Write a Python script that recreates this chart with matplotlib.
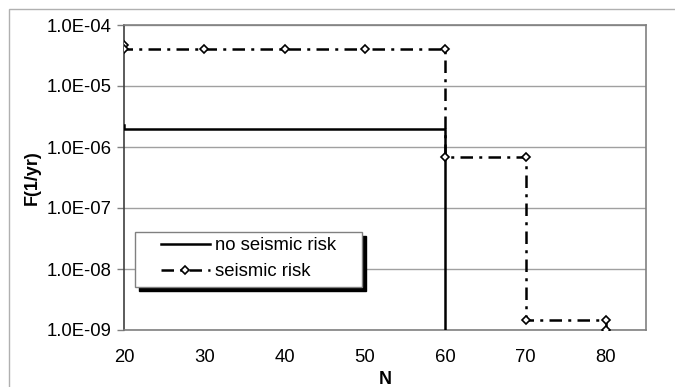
import matplotlib
matplotlib.use("Agg")
import matplotlib.pyplot as plt
from matplotlib.ticker import FixedLocator, FuncFormatter
from matplotlib.patches import Rectangle

plt.rcParams['font.family'] = ['Liberation Sans', 'DejaVu Sans']

# step curves
n_no_seismic = [20, 20, 60, 60]
f_no_seismic = [2.3e-6, 1.95e-6, 1.95e-6, 1.0e-9]

n_seismic = [20, 20, 30, 40, 50, 60, 60, 70, 70, 80, 80]
f_seismic = [4.7e-5, 4.1e-5, 4.1e-5, 4.1e-5, 4.1e-5, 4.1e-5,
             6.8e-7, 6.8e-7, 1.45e-9, 1.45e-9, 1.0e-9]

x_ticks = [20, 30, 40, 50, 60, 70, 80]
y_ticks = [1e-9, 1e-8, 1e-7, 1e-6, 1e-5, 1e-4]

W, H = 675, 387
fig = plt.figure(figsize=(W/100, H/100), dpi=100)
ax = fig.add_axes([124/W, 57/H, 522/W, 305/H])

# outer chart frame (light gray), runs off the right and bottom edges
fig.patches.append(Rectangle((9/W, -0.1), 1.2, 1.1 - 9/H,
                             transform=fig.transFigure, fill=False,
                             edgecolor='#b0b0b0', linewidth=1.0))

ax.plot(n_no_seismic, f_no_seismic, color='black', linewidth=1.8,
        label='no seismic risk', zorder=3)
ax.plot(n_seismic, f_seismic, color='black', linewidth=1.8,
        dashes=(5, 2.5, 1.2, 2.5), marker='D', markersize=4,
        markerfacecolor='white', markeredgecolor='black', markeredgewidth=1.2,
        label='seismic risk', zorder=4)

ax.set_yscale('log')
ax.set_xlim(20, 85)
ax.set_ylim(1e-9, 1e-4)
ax.xaxis.set_major_locator(FixedLocator(x_ticks))
ax.yaxis.set_major_locator(FixedLocator(y_ticks))
ax.yaxis.set_minor_locator(FixedLocator([]))
ax.yaxis.set_major_formatter(FuncFormatter(lambda v, p: '{:.1E}'.format(v)))

ax.grid(axis='y', color='#a0a0a0', linewidth=1)
ax.set_axisbelow(True)
for s in ax.spines.values():
    s.set_color('#808080')
    s.set_linewidth(1.2)
ax.spines['left'].set_color('#404040')

ax.tick_params(axis='y', direction='out', length=5, width=1, color='#808080',
               labelsize=13.3, pad=4)
ax.tick_params(axis='x', length=0, labelsize=13.3, pad=14)

ax.set_xlabel('N', fontsize=13, fontweight='bold', labelpad=3)
ax.set_ylabel('F(1/yr)', fontsize=13, fontweight='bold', labelpad=4)

# legend box with a black drop shadow, drawn by hand
bx0, by0, bx1, by1 = 135, 232, 362, 287
ax.add_patch(Rectangle(((bx0 + 4)/W, 1 - (by1 + 4)/H), (bx1 - bx0)/W, (by1 - by0)/H,
                       transform=fig.transFigure, facecolor='black',
                       edgecolor='black', zorder=5, clip_on=False))
ax.add_patch(Rectangle((bx0/W, 1 - by1/H), (bx1 - bx0)/W, (by1 - by0)/H,
                       transform=fig.transFigure, facecolor='white',
                       edgecolor='#808080', linewidth=1, zorder=6, clip_on=False))
leg = ax.legend(loc='upper left', bbox_to_anchor=(161/W, 1 - 237/H),
                bbox_transform=fig.transFigure, borderaxespad=0, borderpad=0,
                fontsize=13.3, frameon=False,
                handlelength=2.65, handletextpad=0.3, labelspacing=0.5)
leg.set_zorder(7)

fig.savefig('out.png', dpi=100)
